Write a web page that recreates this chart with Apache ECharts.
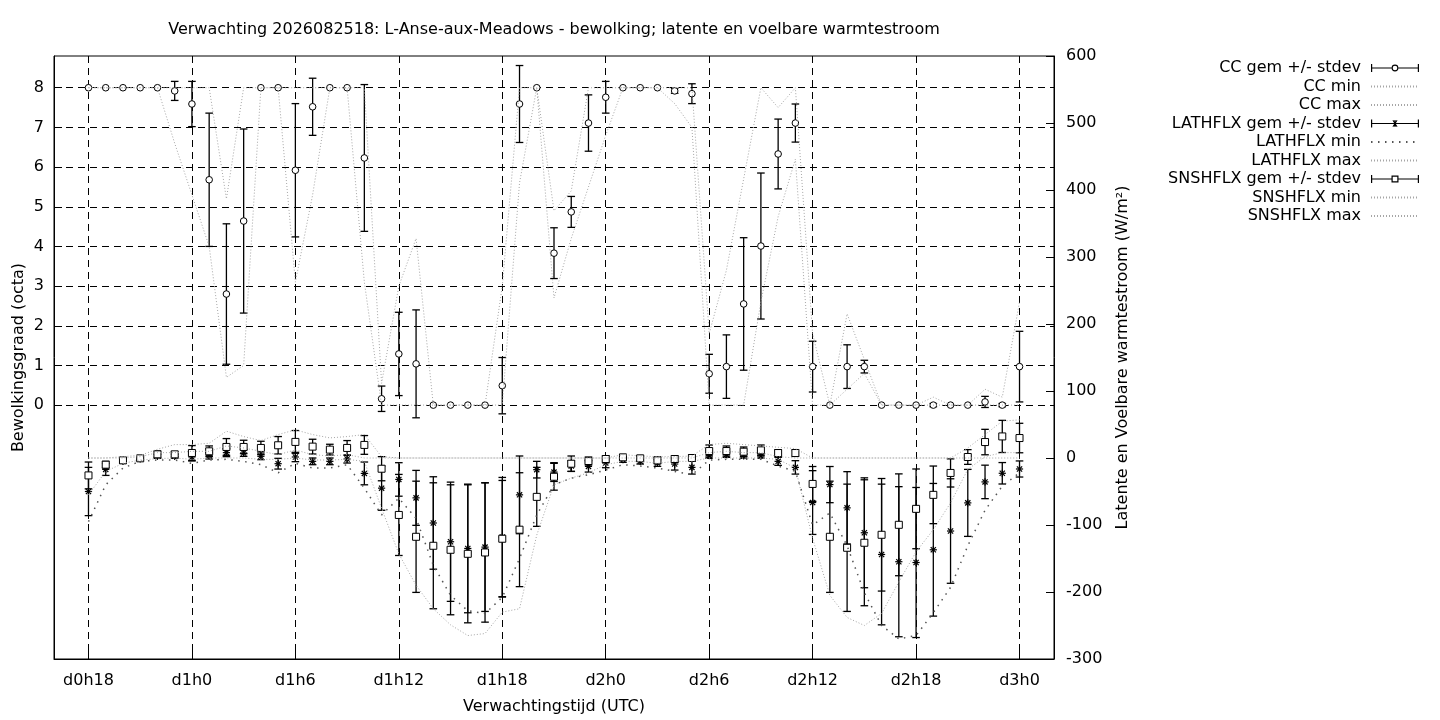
<!DOCTYPE html>
<html>
<head>
<meta charset="utf-8">
<title>Verwachting 2026082518 - L-Anse-aux-Meadows</title>
<script src="https://cdn.jsdelivr.net/npm/echarts@6/dist/echarts.min.js"></script>
<style>
  html, body { margin: 0; padding: 0; background: #fff; }
  #chart { width: 1440px; height: 720px; }
</style>
</head>
<body>
<div id="chart"></div>
<script>
// verwachtingsuren sinds d0h0 (uurlijks, d0h18 .. d3h0)
const UREN = [
  18, 19, 20, 21, 22, 23,
  24, 25, 26, 27, 28, 29,
  30, 31, 32, 33, 34, 35,
  36, 37, 38, 39, 40, 41,
  42, 43, 44, 45, 46, 47,
  48, 49, 50, 51, 52, 53,
  54, 55, 56, 57, 58, 59,
  60, 61, 62, 63, 64, 65,
  66, 67, 68, 69, 70, 71,
  72
];
const TIJD_TICKS = [18, 24, 30, 36, 42, 48, 54, 60, 66, 72];
const TIJD_LABELS = ['d0h18', 'd1h0', 'd1h6', 'd1h12', 'd1h18', 'd2h0', 'd2h6', 'd2h12', 'd2h18', 'd3h0'];
const OCTA_TICKS = [0, 1, 2, 3, 4, 5, 6, 7, 8];

// bewolking (octa)
const CC_GEM = [
  8, 8, 8, 8, 8, 7.92,
  7.59, 5.68, 2.80, 4.64, 8, 8,
  5.92, 7.52, 8, 8, 6.23, 0.16,
  1.29, 1.04, 0, 0, 0, 0,
  0.49, 7.59, 8, 3.83, 4.87, 7.11,
  7.76, 8, 8, 8, 7.92, 7.85,
  0.79, 0.97, 2.55, 4.01, 6.33, 7.11,
  0.97, 0, 0.97, 0.97, 0, 0,
  0, 0, 0, 0, 0.08, 0,
  0.97
];
const CC_SD = [
  0, 0, 0, 0, 0, 0.24,
  0.57, 1.68, 1.77, 2.32, 0, 0,
  1.68, 0.72, 0, 0, 1.85, 0.32,
  1.05, 1.36, 0, 0, 0, 0,
  0.71, 0.97, 0, 0.64, 0.39, 0.71,
  0.40, 0, 0, 0, 0.06, 0.25,
  0.49, 0.80, 1.67, 1.84, 0.88, 0.48,
  0.64, 0, 0.55, 0.16, 0, 0,
  0, 0.04, 0, 0, 0.14, 0.04,
  0.89
];
const CC_MIN = [
  8, 8, 8, 8, 8, 6.6,
  5.3, 4.0, 0.7, 1.0, 8, 8,
  3.1, 5.3, 8, 8, 3.1, 0,
  0, 0, 0, 0, 0, 0,
  0, 5.6, 8, 2.7, 4.2, 5.5,
  6.8, 8, 8, 8, 7.6, 7.0,
  0, 0, 0, 2.6, 4.75, 6.2,
  0, 0, 0.4, 0.8, 0, 0,
  0, 0, 0, 0, 0, 0,
  0
];
const CC_MAX = [
  8, 8, 8, 8, 8, 8,
  8, 8, 5.2, 8, 8, 8,
  8, 8, 8, 8, 8, 0.55,
  3.0, 4.2, 0, 0, 0, 0,
  3.0, 8, 8, 4.9, 5.4, 8,
  8, 8, 8, 8, 8, 8,
  1.8, 3.4, 5.7, 8, 7.5, 8,
  1.8, 0, 2.3, 1.15, 0, 0,
  0, 0.2, 0, 0, 0.4, 0.2,
  2.6
];

// latente warmtestroom (W/m2)
const LAT_GEM = [
  -50, -17, -5, -1.5, 2.5, 2.5,
  1.5, 3.5, 8, 7.5, 2.5, -8.5,
  1.5, -5, -5, -1.5, -23, -45,
  -32, -59.5, -97, -125, -135, -133,
  -118, -55, -17.4, -21, -12, -12.5,
  -7.5, -2.5, -5, -7.5, -9, -14,
  3.5, 5, 3, 3, -5, -14,
  -66.5, -39.7, -74.4, -111.6, -144, -154.8,
  -156, -137, -109, -67, -35.7, -22.8,
  -16.4
];
const LAT_SD = [
  36, 9, 3, 2, 3, 3,
  6, 5, 6, 5, 5, 8,
  7, 5, 5, 6, 17, 33,
  25, 41, 69, 89, 96, 96,
  89, 58, 12.4, 14, 8, 8.5,
  7, 4, 4, 5, 9, 10,
  4, 4, 3, 3, 6, 10,
  47.6, 27, 54, 82, 105, 112,
  112, 99, 78, 50, 25, 16,
  12
];
const LAT_MIN = [
  -95, -40, -15, -5, -3, -3,
  -8, -3, -2, -5, -10, -22,
  -8, -15, -15, -10, -45, -85,
  -60, -90, -160, -205, -228, -232,
  -208, -150, -85, -40, -30, -25,
  -18, -10, -12, -15, -20, -25,
  -3, -2, -2, -2, -12, -20,
  -100, -82, -131, -201, -250, -270,
  -265, -231, -193, -131, -78, -42,
  -22
];
const LAT_MAX = [
  0, 0, 0, 2, 8, 8,
  10, 10, 18, 15, 10, 5,
  12, 5, 3, 5, 0, 0,
  0, 0, 0, 0, 0, 0,
  0, 0, 0, 0, 0, 0,
  0, 0, 0, 0, 0, 0,
  8, 10, 8, 8, 2, 0,
  0, 0, 0, 0, 0, 0,
  0, 0, 0, 0, 0, 0,
  0
];

// voelbare warmtestroom (W/m2)
const SNS_GEM = [
  -26, -10, -3.5, -0.5, 5.5, 5.5,
  7.5, 10, 16.5, 16.5, 15, 19,
  24, 17, 12.5, 15, 19.5, -16,
  -85, -117.6, -131, -137, -143, -141,
  -120.5, -107, -58, -28, -8.5, -4.5,
  -1.5, 1, -0.5, -3.5, -1.5, 0,
  10.4, 10.4, 9.4, 11.4, 7.4, 7.4,
  -38.7, -117.6, -134, -126.5, -114.6, -99.7,
  -75.9, -55, -22.3, 1.5, 23.8, 32.2,
  29.8
];
const SNS_SD = [
  20, 5, 3, 2, 5, 4,
  11, 8, 12.5, 10, 10, 13,
  17, 11, 8, 11, 14, 18,
  60.5, 83, 94, 97, 103, 104,
  87, 85, 44, 20, 11.5, 6,
  5, 4, 4, 5, 5, 5,
  9, 7.5, 7, 8, 5, 5,
  26, 83, 95, 94, 84, 76,
  59.5, 43, 21, 11, 19, 24,
  22
];
const SNS_MIN = [
  -55, -20, -8, -3, -1, 0,
  -2, 0, 0, 0, -2, -2,
  0, -3, -3, -2, -5, -75,
  -143, -190, -225, -249, -265, -262,
  -230, -225, -115, -40, -30, -22,
  -10, -5, -5, -8, -5, -5,
  0, 0, 0, 0, -2, -15,
  -120, -205, -238, -250, -232, -185,
  -140, -107, -67, -17, 2, 8,
  8
];
const SNS_MAX = [
  0, 0, 2, 4, 13, 20,
  20, 22, 40, 32, 26, 35,
  42, 35, 30, 32, 35, 2,
  0, 0, 0, 0, 0, 0,
  0, 0, 0, 0, 0, 0,
  0, 5, 3, 2, 2, 3,
  20, 22, 20, 18, 16, 14,
  0, 0, 0, 0, 0, 0,
  0, 0, 0, 15, 35, 55,
  57
];

const FONT = 'DejaVu Sans';
const FS = 16;
const GRIJS = '#a6a6a6';

function reeks(waarden) {
  return UREN.map(function (u, i) { return [u, waarden[i]]; });
}
function reeksSd(gem, sd) {
  return UREN.map(function (u, i) { return [u, gem[i], sd[i]]; });
}

function merkteken(soort, cx, cy) {
  const st = { fill: '#fff', stroke: '#000', lineWidth: 1 };
  if (soort === 'cirkel') {
    return { type: 'circle', shape: { cx: cx, cy: cy, r: 3.3 }, style: st };
  }
  if (soort === 'vierkant') {
    return { type: 'rect', shape: { x: cx - 3.5, y: cy - 3.5, width: 7, height: 7 }, style: st };
  }
  const s = 3.6, d = 2.6, ls = { stroke: '#000', lineWidth: 1.2 };
  return {
    type: 'group',
    children: [
      { type: 'line', shape: { x1: cx - s, y1: cy, x2: cx + s, y2: cy }, style: ls },
      { type: 'line', shape: { x1: cx, y1: cy - s, x2: cx, y2: cy + s }, style: ls },
      { type: 'line', shape: { x1: cx - d, y1: cy - d, x2: cx + d, y2: cy + d }, style: ls },
      { type: 'line', shape: { x1: cx - d, y1: cy + d, x2: cx + d, y2: cy - d }, style: ls }
    ]
  };
}

function foutbalk(soort) {
  return function (params, api) {
    const x = api.value(0), m = api.value(1), s = api.value(2);
    const c = api.coord([x, m]);
    const kids = [];
    if (s > 0) {
      const t = api.coord([x, m + s]);
      const b = api.coord([x, m - s]);
      const ls = { stroke: '#000', lineWidth: 1.3 };
      kids.push({ type: 'line', shape: { x1: c[0], y1: t[1], x2: c[0], y2: b[1] }, style: ls });
      kids.push({ type: 'line', shape: { x1: c[0] - 3.8, y1: t[1], x2: c[0] + 3.8, y2: t[1] }, style: ls });
      kids.push({ type: 'line', shape: { x1: c[0] - 3.8, y1: b[1], x2: c[0] + 3.8, y2: b[1] }, style: ls });
    }
    kids.push(merkteken(soort, c[0], c[1]));
    return { type: 'group', children: kids };
  };
}

function gemReeks(naam, gem, sd, soort, yIdx) {
  return {
    name: naam,
    type: 'custom',
    yAxisIndex: yIdx,
    renderItem: foutbalk(soort),
    encode: { x: 0, y: 1 },
    itemStyle: { color: '#000' },
    data: reeksSd(gem, sd)
  };
}

function lijnReeks(naam, waarden, yIdx, kleur, dash, breedte) {
  return {
    name: naam,
    type: 'line',
    yAxisIndex: yIdx,
    symbol: 'none',
    showSymbol: false,
    lineStyle: { color: kleur, width: breedte, type: dash },
    // geen symbool in de legenda
    itemStyle: { color: kleur, opacity: 0 },
    data: reeks(waarden)
  };
}

// legenda-iconen in gnuplot-stijl |--o--|
const ICOON_CIRKEL = 'path://M0 0h1.2v8h-1.2z M46.8 0h1.2v8h-1.2z M0 3.4h20.6v1.2h-20.6z M27.4 3.4h20.6v1.2h-20.6z ' +
  'M20.6 4a3.4 3.4 0 1 1 6.8 0a3.4 3.4 0 1 1 -6.8 0z M21.7 4a2.3 2.3 0 1 0 4.6 0a2.3 2.3 0 1 0 -4.6 0z';
const ICOON_STER = 'path://M0 0h1.2v8h-1.2z M46.8 0h1.2v8h-1.2z M0 3.4h48v1.2h-48z M23.4 0.4h1.2v7.2h-1.2z ' +
  'M21.5 1.1L22.3 0.5L26.5 6.9L25.7 7.5z M26.5 1.1L22.3 7.5L21.5 6.9L25.7 0.5z';
const ICOON_VIERKANT = 'path://M0 0h1.2v8h-1.2z M46.8 0h1.2v8h-1.2z M0 3.4h20.5v1.2h-20.5z M27.5 3.4h20.5v1.2h-20.5z ' +
  'M20.5 0.5h7v7h-7z M21.7 1.7v4.6h4.6v-4.6z';

const chart = echarts.init(document.getElementById('chart'));
const gridLijn = { show: true, lineStyle: { color: '#000', width: 1, type: [7, 5] } };
const tekst = { fontFamily: FONT, fontSize: FS, color: '#000' };

chart.setOption({
  animation: false,
  backgroundColor: '#fff',
  textStyle: { fontFamily: FONT, color: '#000' },
  title: {
    text: 'Verwachting 2026082518: L-Anse-aux-Meadows - bewolking; latente en voelbare warmtestroom',
    left: 554,
    top: 22,
    padding: 0,
    textAlign: 'center',
    textStyle: { fontFamily: FONT, fontSize: FS, fontWeight: 'normal', color: '#000' }
  },
  legend: {
    orient: 'vertical',
    right: 20,
    top: 60,
    padding: 0,
    align: 'right',
    itemWidth: 48,
    itemHeight: 8,
    itemGap: 2.5,
    selectedMode: false,
    textStyle: { fontFamily: FONT, fontSize: FS, color: '#000', padding: [0, 5, 0, 0] },
    data: [
      { name: 'CC gem +/- stdev', icon: ICOON_CIRKEL },
      'CC min', 'CC max',
      { name: 'LATHFLX gem +/- stdev', icon: ICOON_STER },
      'LATHFLX min', 'LATHFLX max',
      { name: 'SNSHFLX gem +/- stdev', icon: ICOON_VIERKANT },
      'SNSHFLX min', 'SNSHFLX max'
    ]
  },
  grid: {
    left: 54, right: 386, top: 56, bottom: 61,
    show: true, borderColor: '#000', borderWidth: 1,
    outerBoundsMode: 'none'
  },
  xAxis: {
    type: 'value',
    min: 16,
    max: 74,
    name: 'Verwachtingstijd (UTC)',
    nameLocation: 'middle',
    nameGap: 40,
    nameTextStyle: tekst,
    axisLine: { show: true, onZero: false, lineStyle: { color: '#000', width: 1 } },
    axisTick: { show: true, inside: true, length: 8, customValues: TIJD_TICKS, lineStyle: { color: '#000' } },
    axisLabel: Object.assign({
      customValues: TIJD_TICKS,
      margin: 14,
      formatter: function (v) { return TIJD_LABELS[TIJD_TICKS.indexOf(v)]; }
    }, tekst),
    splitLine: gridLijn
  },
  yAxis: [
    {
      type: 'value',
      position: 'left',
      min: -6.4,
      max: 8.8,
      name: 'Bewolkingsgraad (octa)',
      nameLocation: 'middle',
      nameGap: 27,
      nameMoveOverlap: false,
      nameTextStyle: tekst,
      axisLine: { show: true, onZero: false, lineStyle: { color: '#000', width: 1 } },
      axisTick: { show: true, inside: true, length: 8, customValues: OCTA_TICKS, lineStyle: { color: '#000' } },
      axisLabel: Object.assign({ customValues: OCTA_TICKS, margin: 10 }, tekst),
      splitLine: gridLijn
    },
    {
      type: 'value',
      position: 'right',
      min: -300,
      max: 600,
      interval: 100,
      name: 'Latente en Voelbare warmtestroom (W/m²)',
      nameLocation: 'middle',
      nameGap: 61,
      nameTextStyle: tekst,
      axisLine: { show: true, onZero: false, lineStyle: { color: '#000', width: 1 } },
      axisTick: { show: true, inside: true, length: 8, lineStyle: { color: '#000' } },
      axisLabel: Object.assign({ margin: 12 }, tekst),
      splitLine: { show: false }
    }
  ],
  series: [
    gemReeks('CC gem +/- stdev', CC_GEM, CC_SD, 'cirkel', 0),
    lijnReeks('CC min', CC_MIN, 0, GRIJS, [1, 2], 1),
    lijnReeks('CC max', CC_MAX, 0, GRIJS, [1, 2], 1),
    gemReeks('LATHFLX gem +/- stdev', LAT_GEM, LAT_SD, 'ster', 1),
    lijnReeks('LATHFLX min', LAT_MIN, 1, '#555', [1.5, 5.5], 1.5),
    lijnReeks('LATHFLX max', LAT_MAX, 1, GRIJS, [1, 2], 1),
    gemReeks('SNSHFLX gem +/- stdev', SNS_GEM, SNS_SD, 'vierkant', 1),
    lijnReeks('SNSHFLX min', SNS_MIN, 1, GRIJS, [1, 2], 1),
    lijnReeks('SNSHFLX max', SNS_MAX, 1, GRIJS, [1, 2], 1)
  ]
});

window.addEventListener('resize', function () { chart.resize(); });
</script>
</body>
</html>
